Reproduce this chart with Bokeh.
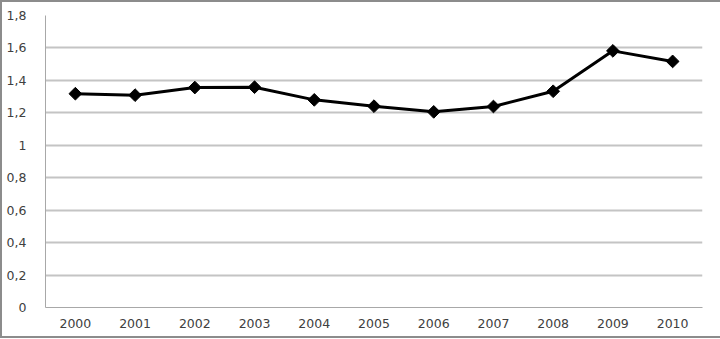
import math
from bokeh.plotting import figure
from bokeh.models import FactorRange, Range1d, FixedTicker
from bokeh.embed import file_html
from bokeh.resources import INLINE

years = ["2000", "2001", "2002", "2003", "2004", "2005", "2006", "2007", "2008", "2009", "2010"]
values = [1.318, 1.309, 1.356, 1.358, 1.280, 1.241, 1.206, 1.239, 1.333, 1.582, 1.517]
y_ticks = [0, 0.2, 0.4, 0.6, 0.8, 1, 1.2, 1.4, 1.6, 1.8]
y_tick_labels = ["0", "0,2", "0,4", "0,6", "0,8", "1", "1,2", "1,4", "1,6", "1,8"]

p = figure(width=720, height=338, x_range=FactorRange(*years), y_range=Range1d(0, 1.8),
           output_backend="svg", toolbar_location=None,
           min_border_left=45, min_border_right=18, min_border_top=15, min_border_bottom=31)
p.styles = {"box-shadow": "inset 2px 2px 0 0 #8c8c8c, inset 0 -2px 0 0 #8c8c8c",
            "background-color": "white"}
p.outline_line_color = None
p.background_fill_color = "white"
p.border_fill_color = None

p.line(years, values, line_color="black", line_width=3)
p.scatter(years, values, marker="square", size=9, angle=math.pi / 4,
          fill_color="black", line_color="black")

p.yaxis.ticker = FixedTicker(ticks=y_ticks)
p.yaxis.major_label_overrides = {t: l for t, l in zip(y_ticks, y_tick_labels)}
for ax in (p.xaxis, p.yaxis):
    ax.major_tick_line_color = None
    ax.minor_tick_line_color = None
    ax.axis_line_color = "#a8a8a8"
    ax.axis_line_width = 1
    ax.major_label_text_font = "DejaVu Sans"
    ax.major_label_text_font_size = "12.5px"
    ax.major_label_text_color = "#404040"
p.yaxis.major_label_standoff = 13
p.xaxis.major_label_standoff = 5
p.xgrid.grid_line_color = None
p.ygrid.grid_line_color = "#c4c4c4"
p.ygrid.grid_line_width = 2

open("out.html", "w").write(file_html(p, INLINE))
